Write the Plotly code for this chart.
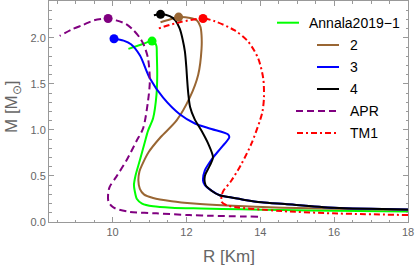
import plotly.graph_objects as go

# ---------------- data ----------------
names = ["Annala2019−1", "2", "3", "4", "APR", "TM1"]
colors = ["#00ff00", "#996633", "#0000ff", "#000000", "#800080", "#ff0000"]
dashes = ["solid", "solid", "solid", "solid", "7px,4px", "6px,3px,2px,3px"]

R_annala = [18, 16, 14.6, 13.5, 12.4, 11.6, 11.1, 10.8, 10.66, 10.6, 10.58, 10.62, 10.74,
            10.87, 10.96, 11.1, 11.19, 11.21, 11.2, 11.19, 11.15, 11.07, 10.8, 10.43]
M_annala = [0.115, 0.122, 0.13, 0.138, 0.147, 0.155, 0.17, 0.2, 0.25, 0.34, 0.4, 0.5, 0.67,
            0.86, 0.99, 1.13, 1.38, 1.6, 1.81, 1.91, 1.945, 1.965, 1.93, 1.88]

R_eos2 = [18, 16, 14.6, 13.1, 12.2, 11.6, 11.1, 10.85, 10.74, 10.7, 10.73, 10.8, 10.98, 11.3,
          11.73, 12.09, 12.32, 12.41, 12.41, 12.38, 12.28, 12.1, 11.79, 11.55, 11.3]
M_eos2 = [0.13, 0.143, 0.155, 0.178, 0.2, 0.225, 0.26, 0.3, 0.36, 0.45, 0.55, 0.62, 0.76, 0.92,
          1.1, 1.35, 1.6, 1.88, 2.03, 2.12, 2.19, 2.215, 2.225, 2.2, 2.17]

R_eos3 = [18, 16, 14.67, 14.03, 13.58, 13.22, 12.9, 12.68, 12.5, 12.45, 12.5, 12.6, 12.72,
          12.95, 13.16, 13.13, 12.68, 12.23, 11.82, 11.37, 11.01, 10.74, 10.5, 10.3, 10.04]
M_eos3 = [0.136, 0.155, 0.195, 0.215, 0.24, 0.265, 0.29, 0.34, 0.40, 0.45, 0.56, 0.63, 0.70,
          0.81, 0.92, 0.95, 1.01, 1.07, 1.17, 1.35, 1.56, 1.81, 1.93, 1.97, 1.99]

R_eos4 = [18, 16, 14.67, 14.03, 13.58, 13.22, 12.9, 12.68, 12.52, 12.5, 12.63, 12.72, 12.59,
          12.41, 12.22, 12.1, 12.05, 12.02, 12.0, 11.96, 11.9, 11.82, 11.7, 11.55, 11.3, 11.12]
M_eos4 = [0.136, 0.155, 0.195, 0.215, 0.24, 0.265, 0.29, 0.34, 0.40, 0.50, 0.61, 0.70, 0.85,
          0.99, 1.12, 1.25, 1.4, 1.55, 1.67, 1.85, 1.98, 2.1, 2.19, 2.235, 2.255, 2.245]

R_apr = [13.94, 12.63, 12.09, 11.19, 10.47, 10.12, 10.0, 9.89, 9.88, 9.92, 10.1, 10.38, 10.65,
         10.83, 10.96, 11.01, 10.96, 10.85, 10.74, 10.55, 10.37, 10.1, 9.88, 9.5, 9.2, 8.89, 8.57]
M_apr = [0.057, 0.068, 0.075, 0.094, 0.11, 0.14, 0.165, 0.22, 0.3, 0.38, 0.49, 0.67, 0.88,
         1.02, 1.31, 1.53, 1.78, 1.92, 2.0, 2.09, 2.15, 2.19, 2.21, 2.19, 2.14, 2.09, 2.02]

R_tm1 = [18, 15.97, 14.6, 14.03, 13.4, 13.1, 12.95, 12.95, 12.99, 13.22, 13.49, 13.76, 13.99,
         14.06, 14.1, 14.08, 13.94, 13.67, 13.31, 12.77, 12.45, 11.82, 11.23]
M_tm1 = [0.075, 0.094, 0.118, 0.135, 0.158, 0.18, 0.22, 0.27, 0.33, 0.45, 0.63, 0.85, 1.1,
         1.2, 1.35, 1.56, 1.78, 1.96, 2.08, 2.18, 2.21, 2.17, 2.1]

R_series = [R_annala, R_eos2, R_eos3, R_eos4, R_apr, R_tm1]
M_series = [M_annala, M_eos2, M_eos3, M_eos4, M_apr, M_tm1]

# maximum-mass points
peak_R = [11.07, 11.79, 10.04, 11.3, 9.88, 12.45]
peak_M = [1.965, 2.225, 1.99, 2.255, 2.21, 2.21]

x_range = [8.28, 18]
y_range = [0, 2.4]
x_title = "R [Km]"
y_title = "M [M<sub>⊙</sub>]"

# ---------------- figure ----------------
W, H = 415, 271
ML, MR, MT, MB = 49, 7, 1, 49
pw, ph = W - ML - MR, H - MT - MB

fig = go.Figure()
for i in range(len(names)):
    fig.add_trace(go.Scatter(x=R_series[i], y=M_series[i], mode="lines",
                             line=dict(color=colors[i], width=2, dash=dashes[i],
                                       shape="spline", smoothing=0.8),
                             showlegend=False, hoverinfo="skip"))
for i in range(len(names)):
    fig.add_trace(go.Scatter(x=[peak_R[i]], y=[peak_M[i]], mode="markers",
                             marker=dict(color=colors[i], size=9),
                             showlegend=False, hoverinfo="skip"))

def px(xp):
    return (xp - ML) / pw
def py(yp):
    return 1 - (yp - MT) / ph

font_family = "Liberation Sans, Arial"
leg_y = [22.7, 45, 67, 89, 111, 133]
leg_x0 = [277, 317, 317, 317, 296, 297]
leg_x1 = [299, 339, 339, 339, 338, 338]
leg_tx = [307, 348, 348, 348, 348, 348]
for i in range(len(names)):
    fig.add_shape(type="line", xref="paper", yref="paper",
                  x0=px(leg_x0[i]), x1=px(leg_x1[i]), y0=py(leg_y[i]), y1=py(leg_y[i]),
                  line=dict(color=colors[i], width=2, dash=dashes[i]))
    fig.add_annotation(xref="paper", yref="paper", x=px(leg_tx[i]), y=py(leg_y[i]),
                       text=names[i], showarrow=False, xanchor="left", yanchor="middle",
                       font=dict(family=font_family, size=14, color="#000"))

frame = "#999999"
tickc = "#666666"
# axis titles
fig.add_annotation(xref="paper", yref="paper", x=px(229.5), y=py(256.5), text=x_title,
                   showarrow=False, xanchor="center", yanchor="middle",
                   font=dict(family=font_family, size=17, color=tickc))
fig.add_annotation(xref="paper", yref="paper", x=px(12.5), y=py(106.5), text=y_title,
                   showarrow=False, xanchor="center", yanchor="middle", textangle=-90,
                   font=dict(family=font_family, size=17, color=tickc))

common = dict(showgrid=False, zeroline=False, showline=True, linecolor=frame, linewidth=1,
              mirror="allticks", ticks="inside", ticklen=5, tickcolor=frame, automargin=False,
              ticklabeloverflow="allow",
              tickfont=dict(family=font_family, size=11, color=tickc))
fig.update_xaxes(range=x_range, tickmode="linear", tick0=10, dtick=2,
                 minor=dict(ticks="inside", ticklen=2.5, tickcolor=frame, dtick=0.5, tick0=10),
                 **common)
fig.update_yaxes(range=y_range, tickmode="linear", tick0=0, dtick=0.5, tickformat=".1f",
                 minor=dict(ticks="inside", ticklen=2.5, tickcolor=frame, dtick=0.1, tick0=0),
                 **common)
fig.update_layout(width=W, height=H, margin=dict(l=ML, r=MR, t=MT, b=MB),
                  paper_bgcolor="white", plot_bgcolor="white", hovermode=False)
fig.write_html("out.html", config={"displayModeBar": False, "staticPlot": True},
               post_script="document.body.style.margin='0px';")
